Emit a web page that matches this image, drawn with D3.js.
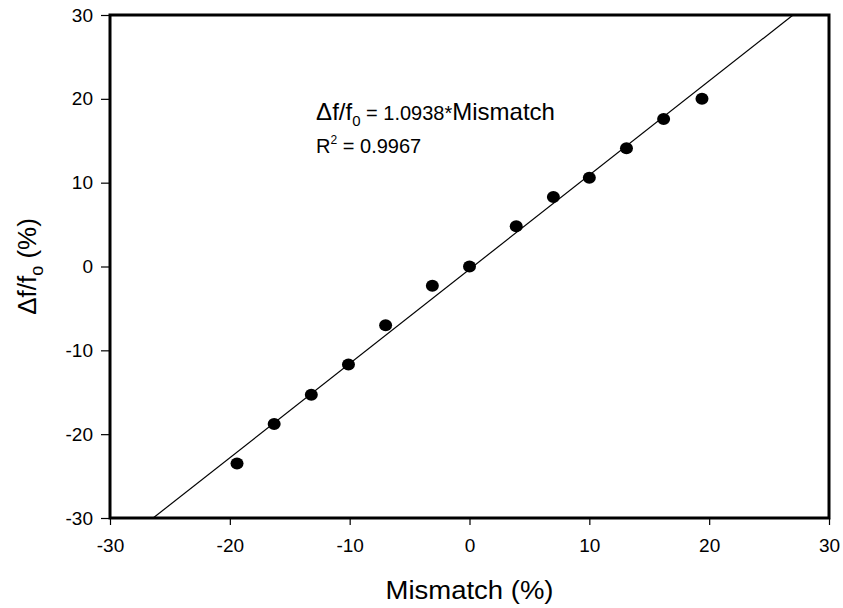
<!DOCTYPE html>
<html>
<head>
<meta charset="utf-8">
<script src="https://cdn.jsdelivr.net/npm/d3@7"></script>
<style>
  body { margin: 0; background: #fff; }
  svg { display: block; font-family: Arial, "Liberation Sans", sans-serif; }
  .tick text { font-size: 19px; fill: #000; }
</style>
</head>
<body>
<svg width="843" height="608"></svg>
<script>
const mismatch = [-19.4, -16.3, -13.2, -10.1, -7.0, -3.1, 0.0, 3.9, 7.0, 10.0, 13.1, 16.2, 19.4];
const deltaF = [-23.5, -18.8, -15.3, -11.7, -7.0, -2.3, 0.0, 4.8, 8.3, 10.6, 14.1, 17.6, 20.0];
// fit line as drawn, end points on the frame
const fitX = [-26.4, 27.0];
const fitY = [-30, 30];
const xTicks = [-30, -20, -10, 0, 10, 20, 30];
const yTicks = [-30, -20, -10, 0, 10, 20, 30];

const svg = d3.select("svg");
const margin = { left: 110, right: 14, top: 15, bottom: 90 };
const width = +svg.attr("width");
const height = +svg.attr("height");
const inner = {
  width: width - margin.left - margin.right,
  height: height - margin.top - margin.bottom,
};

const xScale = d3.scaleLinear().domain([-30, 30]).range([0, inner.width]);
const yScale = d3.scaleLinear().domain([-30, 30]).range([inner.height, 0]);

const g = svg.append("g").attr("transform", `translate(${margin.left},${margin.top})`);

const xAxis = d3.axisBottom(xScale).tickValues(xTicks).tickSize(7).tickPadding(14).tickFormat((d) => String(d));
const yAxis = d3.axisLeft(yScale).tickValues(yTicks).tickSize(9).tickPadding(8).tickFormat((d) => String(d));

const xAxisG = g.append("g").attr("transform", `translate(0,${inner.height})`).call(xAxis);
const yAxisG = g.append("g").call(yAxis);
[xAxisG, yAxisG].forEach((a) => {
  // drop d3's default font attributes so the css applies
  a.attr("font-family", null).attr("font-size", null);
  a.select(".domain").remove();
  a.selectAll(".tick line").attr("stroke", "#000").attr("stroke-width", 1.2);
});

// fit line
g.append("line")
  .attr("x1", xScale(fitX[0]))
  .attr("y1", yScale(fitY[0]))
  .attr("x2", xScale(fitX[1]))
  .attr("y2", yScale(fitY[1]))
  .attr("stroke", "#000")
  .attr("stroke-width", 1.2);

// frame
g.append("rect")
  .attr("width", inner.width)
  .attr("height", inner.height)
  .attr("fill", "none")
  .attr("stroke", "#000")
  .attr("stroke-width", 3);

g.selectAll("ellipse.pt")
  .data(mismatch)
  .enter()
  .append("ellipse")
  .attr("class", "pt")
  .attr("cx", (d) => xScale(d))
  .attr("cy", (d, i) => yScale(deltaF[i]))
  .attr("rx", 6.5)
  .attr("ry", 6)
  .attr("fill", "#000");

// equation
const eqX = xScale(-12.8);
const eq = g.append("text").attr("x", eqX).attr("y", 105).attr("fill", "#000");
eq.append("tspan").attr("font-size", 24).text("\u0394f/f");
eq.append("tspan").attr("font-size", 15).attr("dy", 6).text("0");
eq.append("tspan").attr("font-size", 20).attr("dy", -6).text(" = 1.0938*");
eq.append("tspan").attr("font-size", 24).text("Mismatch");

const r2 = g.append("text").attr("x", eqX).attr("y", 138).attr("fill", "#000").attr("font-size", 20);
r2.append("tspan").text("R");
r2.append("tspan").attr("font-size", 12).attr("dy", -9).text("2");
r2.append("tspan").attr("dy", 9).text(" = 0.9967");

// axis titles
svg.append("text")
  .attr("x", margin.left + inner.width / 2)
  .attr("y", 599)
  .attr("text-anchor", "middle")
  .attr("font-size", 25)
  .attr("textLength", 168)
  .attr("lengthAdjust", "spacingAndGlyphs")
  .text("Mismatch (%)");

const yTitle = svg.append("text")
  .attr("transform", `translate(36,${margin.top + inner.height / 2}) rotate(-90)`)
  .attr("text-anchor", "middle")
  .attr("font-size", 26);
yTitle.append("tspan").text("\u0394f/f");
yTitle.append("tspan").attr("font-size", 18).attr("dy", 7).text("o");
yTitle.append("tspan").attr("dy", -7).text(" (%)");
</script>
</body>
</html>
